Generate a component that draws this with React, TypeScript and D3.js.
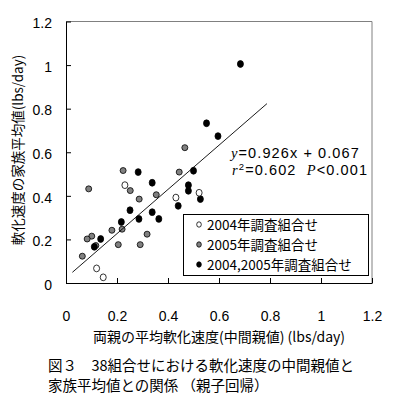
import * as d3 from "d3";
import { useEffect, useRef } from "react";

// 2004年調査組合せ (open circles)
const x2004 = [0.231, 0.12, 0.146, 0.431, 0.522];
const y2004 = [0.449, 0.067, 0.026, 0.392, 0.414];

// 2005年調査組合せ (gray circles)
const x2005 = [0.089, 0.224, 0.252, 0.287, 0.354, 0.444, 0.466, 0.18, 0.22, 0.101, 0.083, 0.064, 0.205, 0.291, 0.318, 0.117];
const y2005 = [0.432, 0.516, 0.424, 0.385, 0.405, 0.509, 0.621, 0.242, 0.247, 0.215, 0.202, 0.123, 0.176, 0.176, 0.224, 0.172];

// 2004,2005年調査組合せ (black)
const xBoth = [0.684, 0.551, 0.596, 0.5, 0.48, 0.48, 0.527, 0.44, 0.283, 0.338, 0.251, 0.338, 0.286, 0.364, 0.217, 0.136, 0.111];
const yBoth = [1.005, 0.733, 0.674, 0.515, 0.449, 0.423, 0.385, 0.354, 0.509, 0.46, 0.334, 0.325, 0.294, 0.294, 0.28, 0.202, 0.166];

// trend line ends as drawn
const trendX = [0.025, 0.788];
const trendY = [0.049, 0.823];

const ticks = [0, 0.2, 0.4, 0.6, 0.8, 1, 1.2];
const legendLabels = ["2004年調査組合せ", "2005年調査組合せ", "2004,2005年調査組合せ"];

const FONT = "'Noto Sans CJK JP', 'Noto Sans', sans-serif";
const LATIN = "'Liberation Sans', sans-serif";
const SERIF = "'Liberation Serif', serif";

export default function App() {
  const ref = useRef<SVGSVGElement | null>(null);

  useEffect(() => {
    const svg = d3.select(ref.current);
    svg.selectAll("*").remove();

    const x = d3.scaleLinear().domain([0, 1.2]).range([66, 372]);
    const y = d3.scaleLinear().domain([0, 1.2]).range([283, 21.5]);

    svg.append("rect").attr("width", 399).attr("height", 400).attr("fill", "#fff");

    // plot border: top/right gray
    svg.append("path")
      .attr("d", `M${x(0)},${y(1.2)}H${x(1.2)}V${y(0)}`)
      .attr("fill", "none").attr("stroke", "#808080").attr("stroke-width", 1);

    const fmt = (d: any) => String(+(+d).toFixed(1));

    const xAxis = svg.append("g")
      .attr("transform", `translate(0,${y(0)})`)
      .call(d3.axisBottom(x).tickValues(ticks).tickSizeInner(-5).tickSizeOuter(0).tickPadding(28).tickFormat(fmt));
    xAxis.select(".domain").attr("stroke", "#000");

    const yAxis = svg.append("g")
      .attr("transform", `translate(${x(0)},0)`)
      .call(d3.axisLeft(y).tickValues(ticks).tickSizeInner(-5).tickSizeOuter(0).tickPadding(14).tickFormat(fmt));
    yAxis.select(".domain").attr("stroke", "#000");
    yAxis.selectAll("text").attr("dy", "0.45em");

    svg.selectAll(".tick text").attr("font-family", LATIN).attr("font-size", 14).attr("fill", "#000");

    const r = 3;
    const g = svg.append("g");
    g.selectAll(".p2005").data(d3.range(x2005.length)).join("circle")
      .attr("cx", (i) => x(x2005[i])).attr("cy", (i) => y(y2005[i])).attr("r", r)
      .attr("fill", "#808080").attr("stroke", "#000").attr("stroke-width", 0.8);
    g.selectAll(".pBoth").data(d3.range(xBoth.length)).join("ellipse")
      .attr("cx", (i) => x(xBoth[i])).attr("cy", (i) => y(yBoth[i])).attr("rx", r).attr("ry", r + 0.4)
      .attr("fill", "#000").attr("stroke", "#000").attr("stroke-width", 0.8);
    g.selectAll(".p2004").data(d3.range(x2004.length)).join("ellipse")
      .attr("cx", (i) => x(x2004[i])).attr("cy", (i) => y(y2004[i])).attr("rx", r).attr("ry", r + 0.4)
      .attr("fill", "#fff").attr("stroke", "#000").attr("stroke-width", 0.8);

    svg.append("line")
      .attr("x1", x(trendX[0])).attr("y1", y(trendY[0]))
      .attr("x2", x(trendX[1])).attr("y2", y(trendY[1]))
      .attr("stroke", "#000").attr("stroke-width", 0.9);

    // equation
    const eq1 = svg.append("text").attr("x", 231).attr("y", 158)
      .attr("font-family", LATIN).attr("font-size", 14.5).attr("letter-spacing", 1.1);
    eq1.append("tspan").attr("font-family", SERIF).attr("font-style", "italic").text("y");
    eq1.append("tspan").text("=0.926x + 0.067");
    const eq2 = svg.append("text").attr("x", 232).attr("y", 175)
      .attr("font-family", LATIN).attr("font-size", 14.5).attr("letter-spacing", 1.1);
    eq2.append("tspan").attr("font-family", SERIF).attr("font-style", "italic").text("r");
    eq2.append("tspan").attr("font-size", 9.5).attr("dy", -5).text("2");
    eq2.append("tspan").attr("dy", 5).text("=0.602\u00a0\u00a0");
    eq2.append("tspan").attr("font-family", SERIF).attr("font-style", "italic").text("P");
    eq2.append("tspan").text("<0.001");

    // legend
    const lg = svg.append("g");
    lg.append("rect").attr("x", 183.5).attr("y", 214.5).attr("width", 185).attr("height", 61)
      .attr("fill", "#fff").attr("stroke", "#000").attr("stroke-width", 1);
    const fills = ["#fff", "#808080", "#000"];
    legendLabels.forEach((lab, i) => {
      const cy = 224.5 + i * 20;
      lg.append("ellipse").attr("cx", 199).attr("cy", cy).attr("rx", 2.3).attr("ry", 2.7)
        .attr("fill", fills[i]).attr("stroke", "#000").attr("stroke-width", 0.8);
      lg.append("text").attr("x", 207).attr("y", cy + 5)
        .attr("font-family", FONT).attr("font-size", 13.5).text(lab);
    });

    // axis titles
    svg.append("text").attr("x", 219).attr("y", 342).attr("text-anchor", "middle")
      .attr("font-family", FONT).attr("font-size", 14).text("両親の平均軟化速度(中間親値) (lbs/day)");
    svg.append("text").attr("transform", "translate(23,150) rotate(-90)").attr("text-anchor", "middle")
      .attr("font-family", FONT).attr("font-size", 13.5).text("軟化速度の家族平均値(lbs/day)");

    // caption
    svg.append("text").attr("x", 48).attr("y", 371)
      .attr("font-family", FONT).attr("font-size", 14.5).text("図３　38組合せにおける軟化速度の中間親値と");
    svg.append("text").attr("x", 48).attr("y", 391)
      .attr("font-family", FONT).attr("font-size", 14.5).text("家族平均値との関係 （親子回帰）");
  }, []);

  return (
    <div style={{ position: "absolute", left: 0, top: 0 }}>
      <svg ref={ref} width={399} height={400} style={{ display: "block" }}></svg>
    </div>
  );
}
